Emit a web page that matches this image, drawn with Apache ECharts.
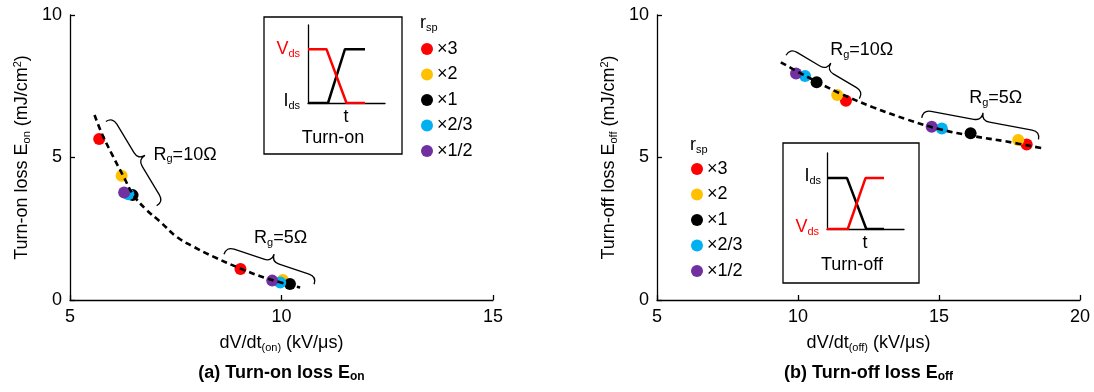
<!DOCTYPE html>
<html>
<head>
<meta charset="utf-8">
<script src="https://cdn.jsdelivr.net/npm/echarts@6/dist/echarts.min.js"></script>
<style>html,body{margin:0;padding:0;background:#fff}#c{width:1094px;height:392px}</style>
</head>
<body>
<div id="c"></div>
<script>
// ---- data ----
const rsp = ['×3', '×2', '×1', '×2/3', '×1/2'];
// Turn-on (a)
const onRg10X = [5.69, 6.22, 6.48, 6.38, 6.28];
const onRg10Y = [5.65, 4.36, 3.68, 3.71, 3.77];
const onRg5X = [9.03, 10.03, 10.20, 9.97, 9.78];
const onRg5Y = [1.09, 0.70, 0.56, 0.61, 0.68];
const onFitX = [5.58, 5.75, 6.02, 6.26, 6.50, 6.81, 7.13, 7.52, 7.92, 8.39, 9.02, 9.65, 10.44];
const onFitY = [6.49, 5.85, 5.03, 4.35, 3.68, 3.16, 2.75, 2.22, 1.87, 1.52, 1.11, 0.76, 0.44];
// Turn-off (b)
const offRg10X = [11.70, 11.39, 10.66, 10.25, 9.93];
const offRg10Y = [6.99, 7.19, 7.64, 7.86, 7.95];
const offRg5X = [18.11, 17.81, 16.12, 15.10, 14.74];
const offRg5Y = [5.46, 5.61, 5.85, 6.02, 6.08];
const offFitX = [9.39, 10.31, 11.49, 12.67, 13.85, 15.04, 16.22, 17.40, 18.68];
const offFitY = [8.34, 7.84, 7.25, 6.76, 6.34, 5.99, 5.75, 5.56, 5.32];
// Rg brace annotations (data coords: start x,y, end x,y) and labels
const rgText = ['10Ω', '5Ω'];
const onBraces = [[6.01, 6.41, 7.21, 3.45], [8.70, 1.87, 10.83, 0.82]];
const onBraceLabelPos = [[7.72, 5.09], [9.98, 2.16]];
const offBraces = [[9.72, 8.83, 12.32, 7.31], [14.44, 6.67, 18.58, 5.91]];
const offBraceLabelPos = [[12.26, 8.77], [17.01, 7.08]];
// axis ranges / ticks
const onXTicks = [5, 10, 15];
const offXTicks = [5, 10, 15, 20];
const yTicks = [0, 5, 10];
// inset waveforms (normalized time, level)
const onVdsWave = [[0, 0.69], [0.24, 0.69], [0.50, 0], [0.74, 0]];
const onIdsWave = [[0, 0], [0.26, 0], [0.48, 0.69], [0.74, 0.69]];
const offIdsWave = [[0, 0.67], [0.26, 0.67], [0.51, 0], [0.74, 0]];
const offVdsWave = [[0, 0], [0.27, 0], [0.50, 0.67], [0.74, 0.67]];

// ---- styles ----
const FONT = "'Liberation Sans', Arial, Helvetica, sans-serif";
const colors = ['#FF0000', '#FFC000', '#000000', '#00B0F0', '#7030A0'];
const richBase = {
  n: { fontSize: 18, fontFamily: FONT, color: '#000', lineHeight: 20 },
  sub: { fontSize: 11, fontFamily: FONT, color: '#000', verticalAlign: 'bottom', lineHeight: 11 },
  sup: { fontSize: 11, fontFamily: FONT, color: '#000', verticalAlign: 'top', lineHeight: 12 }
};

const chart = echarts.init(document.getElementById('c'), null, { renderer: 'canvas' });

function zip(xs, ys) { return xs.map((x, i) => [x, ys[i]]); }

function mainX(grid, min, max, nameRich) {
  return {
    type: 'value', gridIndex: grid, min: min, max: max, interval: 5,
    axisLine: { show: true, onZero: false, lineStyle: { color: '#000', width: 1.3 } },
    axisTick: { show: true, inside: true, length: 5, lineStyle: { color: '#000', width: 1.3 } },
    axisLabel: { color: '#000', fontSize: 18, fontFamily: FONT, margin: 8 },
    splitLine: { show: false },
    name: nameRich, nameLocation: 'middle', nameGap: 33,
    nameTextStyle: { rich: richBase }
  };
}
function mainY(grid, nameRich) {
  return {
    type: 'value', gridIndex: grid, min: 0, max: 10, interval: 5,
    axisLine: { show: true, onZero: false, lineStyle: { color: '#000', width: 1.3 } },
    axisTick: { show: true, inside: true, length: 5, lineStyle: { color: '#000', width: 1.3 } },
    axisLabel: { color: '#000', fontSize: 18, fontFamily: FONT, margin: 8 },
    splitLine: { show: false },
    name: nameRich, nameLocation: 'middle', nameGap: 38,
    nameTextStyle: { rich: richBase }
  };
}
function insetAxis(grid) {
  return {
    type: 'value', gridIndex: grid, min: 0, max: 1,
    axisLine: { show: true, onZero: false, lineStyle: { color: '#000', width: 1.3 } },
    axisTick: { show: false }, axisLabel: { show: false }, splitLine: { show: false }
  };
}

function braceRender(labelPos) {
  return function (params, api) {
    const p0 = api.coord([api.value(0), api.value(1)]);
    const p1 = api.coord([api.value(2), api.value(3)]);
    const dx = p1[0] - p0[0], dy = p1[1] - p0[1];
    const L = Math.hypot(dx, dy);
    const u = [dx / L, dy / L];
    const n = [u[1], -u[0]];
    const h = 8;
    const m = [(p0[0] + p1[0]) / 2, (p0[1] + p1[1]) / 2];
    const P = (p, a, b) => [p[0] + a * u[0] + b * n[0], p[1] + a * u[1] + b * n[1]];
    const A0 = P(p0, 0, -h), B0 = P(p0, h, 0), C = P(m, -h, 0), T = P(m, 0, h), D = P(m, h, 0), E1 = P(p1, -h, 0), A1 = P(p1, 0, -h);
    const f = p => p[0].toFixed(2) + ' ' + p[1].toFixed(2);
    const d = 'M' + f(A0) + ' Q' + f(p0) + ' ' + f(B0) + ' L' + f(C) + ' Q' + f(m) + ' ' + f(T) +
      ' Q' + f(m) + ' ' + f(D) + ' L' + f(E1) + ' Q' + f(p1) + ' ' + f(A1);
    const lp = api.coord(labelPos[params.dataIndex]);
    return {
      type: 'group',
      children: [
        { type: 'path', shape: { pathData: d }, style: { fill: 'none', stroke: '#000', lineWidth: 1.3 } },
        {
          type: 'text', x: lp[0], y: lp[1],
          style: {
            text: '{n|R}{sub|g}{n|=' + rgText[params.dataIndex] + '}',
            rich: richBase, align: 'center', verticalAlign: 'middle'
          }
        }
      ]
    };
  };
}

const series = [];
// scatter points (draw order: ×3, ×2, ×1, ×2/3, ×1/2)
rsp.forEach((nm, i) => {
  series.push({
    type: 'scatter', name: nm, xAxisIndex: 0, yAxisIndex: 0, symbol: 'circle', symbolSize: 12,
    itemStyle: { color: colors[i], opacity: 1 },
    data: [[onRg10X[i], onRg10Y[i]], [onRg5X[i], onRg5Y[i]]], z: 3
  });
});
rsp.forEach((nm, i) => {
  series.push({
    type: 'scatter', name: nm, xAxisIndex: 1, yAxisIndex: 1, symbol: 'circle', symbolSize: 12,
    itemStyle: { color: colors[i], opacity: 1 },
    data: [[offRg10X[i], offRg10Y[i]], [offRg5X[i], offRg5Y[i]]], z: 3
  });
});
// fitted dashed trends
series.push({
  type: 'line', name: 'fitOn', xAxisIndex: 0, yAxisIndex: 0, data: zip(onFitX, onFitY), smooth: 0.4,
  showSymbol: false, symbol: 'none', lineStyle: { color: '#000', width: 2.6, type: [6, 4] }, z: 4, silent: true
});
series.push({
  type: 'line', name: 'fitOff', xAxisIndex: 1, yAxisIndex: 1, data: zip(offFitX, offFitY), smooth: 0.4,
  showSymbol: false, symbol: 'none', lineStyle: { color: '#000', width: 2.6, type: [6, 4] }, z: 4, silent: true
});
// braces
series.push({ type: 'custom', name: 'braceOn', xAxisIndex: 0, yAxisIndex: 0, data: onBraces, renderItem: braceRender(onBraceLabelPos), silent: true, z: 5 });
series.push({ type: 'custom', name: 'braceOff', xAxisIndex: 1, yAxisIndex: 1, data: offBraces, renderItem: braceRender(offBraceLabelPos), silent: true, z: 5 });
// inset waveforms
const waveStyle = (c) => ({ color: c, width: 2.5 });
series.push({ type: 'line', name: 'onIds', xAxisIndex: 2, yAxisIndex: 2, data: onIdsWave, symbol: 'none', lineStyle: waveStyle('#000'), silent: true, z: 6 });
series.push({ type: 'line', name: 'onVds', xAxisIndex: 2, yAxisIndex: 2, data: onVdsWave, symbol: 'none', lineStyle: waveStyle('#FF0000'), silent: true, z: 6 });
series.push({ type: 'line', name: 'offIds', xAxisIndex: 3, yAxisIndex: 3, data: offIdsWave, symbol: 'none', lineStyle: waveStyle('#000'), silent: true, z: 6 });
series.push({ type: 'line', name: 'offVds', xAxisIndex: 3, yAxisIndex: 3, data: offVdsWave, symbol: 'none', lineStyle: waveStyle('#FF0000'), silent: true, z: 6 });

function legendAt(left, top) {
  return {
    data: rsp, orient: 'vertical', left: left, top: top, padding: 0,
    icon: 'circle', itemWidth: 12, itemHeight: 12, itemGap: 7.5, selectedMode: false,
    textStyle: { fontSize: 18, fontFamily: FONT, color: '#000', lineHeight: 18, padding: [0, 0, 0, -1] }
  };
}

function gtext(x, y, text, align, color, extra) {
  const rich = {
    n: Object.assign({}, richBase.n, { color: color }),
    sub: Object.assign({}, richBase.sub, { color: color })
  };
  return Object.assign({
    type: 'text', x: x, y: y, z: 10, silent: true,
    style: { text: text, rich: rich, align: align, verticalAlign: 'middle', fill: color }
  }, extra || {});
}

const titleRich = {
  b: { fontSize: 18, fontWeight: 'bold', fontFamily: FONT, color: '#000', lineHeight: 20 },
  bs: { fontSize: 12, fontWeight: 'bold', fontFamily: FONT, color: '#000', verticalAlign: 'bottom', lineHeight: 11 }
};

chart.setOption({
  animation: false,
  backgroundColor: '#fff',
  title: [
    { text: '{b|(a) Turn-on loss E}{bs|on}', left: 281.5, top: 363, padding: 0, textAlign: 'center', textStyle: { rich: titleRich } },
    { text: '{b|(b) Turn-off loss E}{bs|off}', left: 868.5, top: 363, padding: 0, textAlign: 'center', textStyle: { rich: titleRich } }
  ],
  grid: [
    { left: 70, top: 15, width: 423, height: 285 },
    { left: 657, top: 15, width: 423, height: 285 },
    { left: 308, top: 25, width: 77, height: 78 },
    { left: 827, top: 153, width: 77, height: 76 }
  ],
  xAxis: [
    mainX(0, onXTicks[0], onXTicks[onXTicks.length - 1], '{n|dV/dt}{sub|(on)}{n| (kV/μs)}'),
    mainX(1, offXTicks[0], offXTicks[offXTicks.length - 1], '{n|dV/dt}{sub|(off)}{n| (kV/μs)}'),
    insetAxis(2), insetAxis(3)
  ],
  yAxis: [
    mainY(0, '{n|Turn-on loss E}{sub|on}{n| (mJ/cm}{sup|2}{n|)}'),
    mainY(1, '{n|Turn-off loss E}{sub|off}{n| (mJ/cm}{sup|2}{n|)}'),
    insetAxis(2), insetAxis(3)
  ],
  legend: [legendAt(421, 40), legendAt(691, 160)],
  graphic: [
    { type: 'rect', shape: { x: 264, y: 17, width: 138, height: 137 }, style: { fill: 'none', stroke: '#000', lineWidth: 1.3 }, silent: true, z: 1 },
    { type: 'rect', shape: { x: 783, y: 143, width: 136, height: 140 }, style: { fill: 'none', stroke: '#000', lineWidth: 1.3 }, silent: true, z: 1 },
    gtext(300, 49, '{n|V}{sub|ds}', 'right', '#FF0000'),
    gtext(300, 101, '{n|I}{sub|ds}', 'right', '#000'),
    gtext(346, 117, '{n|t}', 'center', '#000'),
    gtext(333, 138, '{n|Turn-on}', 'center', '#000'),
    gtext(821, 176, '{n|I}{sub|ds}', 'right', '#000'),
    gtext(819, 227, '{n|V}{sub|ds}', 'right', '#FF0000'),
    gtext(865, 243, '{n|t}', 'center', '#000'),
    gtext(852, 265, '{n|Turn-off}', 'center', '#000'),
    gtext(420, 23, '{n|r}{sub|sp}', 'left', '#000'),
    gtext(690, 145, '{n|r}{sub|sp}', 'left', '#000')
  ],
  series: series
});
</script>
</body>
</html>
